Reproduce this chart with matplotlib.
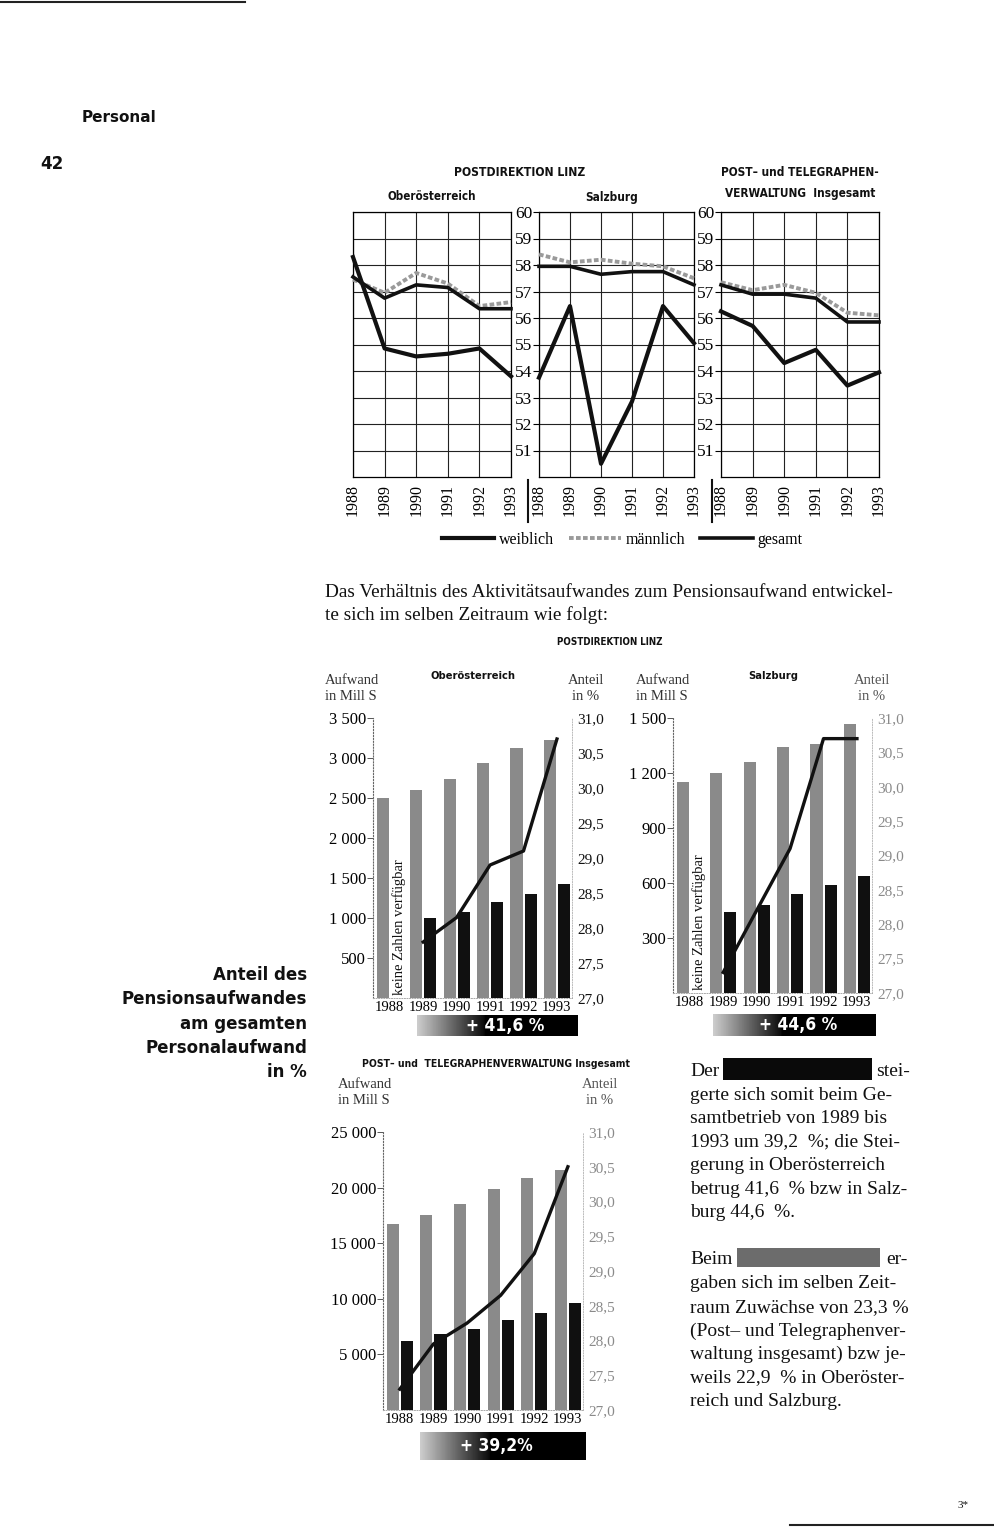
import numpy as np
import matplotlib
matplotlib.use("Agg")
import matplotlib.pyplot as plt
from matplotlib.lines import Line2D
from matplotlib.patches import Rectangle

W, H = 994, 1527
SERIF = "Liberation Serif"
NARROW = "DejaVu Sans"
HEAVY = "DejaVu Sans"

years = [1988, 1989, 1990, 1991, 1992, 1993]

# Liniendiagramme (Werte 50-60)
ooe_w = [58.3, 54.85, 54.55, 54.65, 54.85, 53.8]
ooe_m = [57.45, 56.95, 57.7, 57.3, 56.45, 56.6]
ooe_g = [57.55, 56.75, 57.25, 57.15, 56.35, 56.35]
sbg_w = [53.75, 56.45, 50.5, 52.85, 56.45, 55.05]
sbg_m = [58.4, 58.1, 58.2, 58.05, 57.95, 57.5]
sbg_g = [57.95, 57.95, 57.65, 57.75, 57.75, 57.25]
ges_w = [56.25, 55.7, 54.3, 54.8, 53.45, 53.95]
ges_m = [57.35, 57.05, 57.25, 56.95, 56.2, 56.1]
ges_g = [57.25, 56.9, 56.9, 56.75, 55.85, 55.85]

# Balkendiagramme (Aufwand in Mill S, Anteil in %)
ooe_akt = [2500, 2600, 2740, 2940, 3130, 3220]
ooe_pens = [np.nan, 1000, 1070, 1200, 1300, 1430]
ooe_ant = [np.nan, 27.8, 28.15, 28.9, 29.1, 30.7]
sbg_akt = [1150, 1200, 1260, 1340, 1360, 1470]
sbg_pens = [np.nan, 440, 480, 540, 590, 640]
sbg_ant = [np.nan, 27.3, 28.2, 29.1, 30.7, 30.7]
ges_akt = [16700, 17500, 18500, 19900, 20900, 21600]
ges_pens = [6200, 6800, 7300, 8100, 8700, 9600]
ges_ant = [27.3, 27.95, 28.25, 28.65, 29.25, 30.5]

fig = plt.figure(figsize=(W / 100, H / 100), dpi=100)


def px_axes(x0, y0, x1, y1):
    return fig.add_axes([x0 / W, 1 - y1 / H, (x1 - x0) / W, (y1 - y0) / H])


def ftext(x, y, s, **kw):
    kw.setdefault("family", SERIF)
    kw.setdefault("color", "#111111")
    fig.text(x / W, 1 - y / H, s, **kw)


def title(x, y, s, size, **kw):
    ftext(x, y, s, family=NARROW, weight="bold", stretch="condensed", fontsize=size,
          ha="center", va="center", **kw)


def fline(x0, x1, y0, y1, **kw):
    fig.add_artist(Line2D([x0 / W, x1 / W], [1 - y0 / H, 1 - y1 / H], **kw))


def fbox(x0, y0, x1, y1, color):
    fig.add_artist(Rectangle((x0 / W, 1 - y1 / H), (x1 - x0) / W, (y1 - y0) / H,
                             transform=fig.transFigure, color=color, lw=0))


# Kopf
fline(0, 245, 1.5, 1.5, color="#222", lw=1.5)
ftext(82, 117, "Personal", family=HEAVY, weight="bold", fontsize=11, va="center")
ftext(40, 164, "42", family=HEAVY, weight="bold", fontsize=12, va="center")

# Titel oben
title(520, 172, "POSTDIREKTION LINZ", 8.7)
title(432, 197, "Oberösterreich", 8.3)
title(612, 198, "Salzburg", 8.5)
title(800, 172, "POST\u2013 und TELEGRAPHEN-", 8.5)
title(800, 193, "VERWALTUNG  Insgesamt", 8.5)

panels = [
    ((353, 511), ooe_w, ooe_m, ooe_g, False),
    ((539, 694), sbg_w, sbg_m, sbg_g, True),
    ((721, 879), ges_w, ges_m, ges_g, True),
]
handles = None
for (x0, x1), w, m, g, lab in panels:
    ax = px_axes(x0, 212, x1, 477)
    ax.set_xlim(1988, 1993)
    ax.set_ylim(50, 60)
    ax.set_xticks(years)
    ax.set_xticklabels([str(y) for y in years], rotation=90, family=SERIF, fontsize=11.5)
    ax.set_yticks(range(51, 61))
    ax.set_yticklabels([str(v) for v in range(51, 61)], family=SERIF, fontsize=12.5)
    ax.grid(True, color="#222", lw=0.8)
    lm, = ax.plot(years, m, color="#9a9a9a", lw=2.8, ls=(0, (1.2, 0.6)), zorder=3, clip_on=False)
    lg, = ax.plot(years, g, color="#111", lw=2.6, zorder=4, clip_on=False)
    lw_, = ax.plot(years, w, color="#111", lw=3.0, zorder=4, clip_on=False)
    handles = [lw_, lm, lg]
    ax.tick_params(axis="x", length=0, pad=5)
    if lab:
        ax.tick_params(axis="y", length=4, width=0.8, pad=1)
    else:
        ax.tick_params(axis="y", length=0, labelleft=False)
    for sp in ax.spines.values():
        sp.set_linewidth(0.9)

fline(528, 528, 480, 522, color="#111", lw=1.5)
fline(712, 712, 480, 522, color="#111", lw=1.5)

fig.legend(handles, ["weiblich", "männlich", "gesamt"], loc="center",
           bbox_to_anchor=(622 / W, 1 - 540 / H), ncol=3, frameon=False,
           handlelength=3.3, columnspacing=0.9, handletextpad=0.3,
           prop={"family": SERIF, "size": 11.5})

# Fliesstext
ftext(325, 597, "Das Verhältnis des Aktivitätsaufwandes zum Pensionsaufwand entwickel-", fontsize=13.85)
ftext(325, 620, "te sich im selben Zeitraum wie folgt:", fontsize=13.85)
title(610, 642, "POSTDIREKTION LINZ", 7)


def bar_chart(rect, akt, pens, ant, ymax, yticks, ylabels, rcolor, note=False):
    ax = px_axes(*rect)
    x = np.arange(len(years))
    ax.bar(x - 0.21, akt, 0.36, color="#8a8a8a")
    ax.bar(x + 0.21, pens, 0.36, color="#101010")
    ax.set_xlim(-0.5, 5.45)
    ax.set_ylim(0, ymax)
    ax.set_yticks(yticks)
    ax.set_yticklabels(ylabels, family=SERIF, fontsize=12)
    ax.set_xticks(x)
    ax.set_xticklabels([str(y) for y in years], family=SERIF, fontsize=10.5)
    ax.tick_params(axis="x", length=0, pad=2)
    ax.tick_params(axis="y", length=4, width=0.7, color="#555", pad=1)
    ax.spines["top"].set_visible(False)
    ax.spines["left"].set(color="#666", lw=0.8, ls=":")
    ax.spines["bottom"].set(color="#aaa", lw=0.7, ls=":")
    ax.spines["right"].set(color="#bbb", lw=0.7, ls=":")
    if note:
        ax.text(0.27, ymax * 0.01, "keine Zahlen verfügbar", rotation=90, ha="center",
                va="bottom", family=SERIF, fontsize=10.5, color="#111")
    a2 = ax.twinx()
    a2.set_ylim(27, 31)
    rt = np.arange(27, 31.01, 0.5)
    a2.set_yticks(rt)
    a2.set_yticklabels([f"{v:.1f}".replace(".", ",") for v in rt], family=SERIF,
                       fontsize=11, color=rcolor)
    a2.tick_params(axis="y", length=0, pad=4)
    for sp in a2.spines.values():
        sp.set_visible(False)
    a2.plot(x, ant, color="#111", lw=2.4)
    return ax


def banner(rect, label, tx):
    b = px_axes(*rect)
    grad = np.concatenate([np.linspace(0.8, 0.05, 42), np.zeros(58)])
    b.imshow(grad[None, :], cmap="gray", vmin=0, vmax=1, aspect="auto", extent=[0, 1, 0, 1])
    b.set_axis_off()
    b.text(tx, 0.5, label, color="white", weight="bold", family=NARROW, stretch="condensed",
           fontsize=12.5, ha="center", va="center", transform=b.transAxes)


# Oberösterreich
ftext(325, 681, "Aufwand", fontsize=10.5, color="#333", va="center")
ftext(325, 697, "in Mill S", fontsize=10.5, color="#333", va="center")
title(473, 676, "Oberösterreich", 8)
ftext(586, 681, "Anteil", fontsize=10.5, color="#333", ha="center", va="center")
ftext(586, 697, "in %", fontsize=10.5, color="#333", ha="center", va="center")
bar_chart((373, 718, 572, 998), ooe_akt, ooe_pens, ooe_ant, 3500,
          [500, 1000, 1500, 2000, 2500, 3000, 3500],
          ["500", "1 000", "1 500", "2 000", "2 500", "3 000", "3 500"], "#111", note=True)
banner((417, 1015, 578, 1036), "+ 41,6 %", 0.55)

# Salzburg
ftext(636, 681, "Aufwand", fontsize=10.5, color="#333", va="center")
ftext(636, 697, "in Mill S", fontsize=10.5, color="#333", va="center")
title(773, 676, "Salzburg", 8)
ftext(872, 681, "Anteil", fontsize=10.5, color="#555", ha="center", va="center")
ftext(872, 697, "in %", fontsize=10.5, color="#555", ha="center", va="center")
bar_chart((673, 718, 872, 993), sbg_akt, sbg_pens, sbg_ant, 1500,
          [300, 600, 900, 1200, 1500], ["300", "600", "900", "1 200", "1 500"], "#8a8a8a", note=True)
banner((713, 1014, 876, 1036), "+ 44,6 %", 0.52)

# Gesamt
title(496, 1064, "POST\u2013 und  TELEGRAPHENVERWALTUNG Insgesamt", 7.5)
ftext(338, 1084, "Aufwand", fontsize=10.5, color="#333", va="center")
ftext(338, 1100, "in Mill S", fontsize=10.5, color="#333", va="center")
ftext(600, 1084, "Anteil", fontsize=10.5, color="#555", ha="center", va="center")
ftext(600, 1100, "in %", fontsize=10.5, color="#555", ha="center", va="center")
bar_chart((383, 1132, 583, 1410), ges_akt, ges_pens, ges_ant, 25000,
          [5000, 10000, 15000, 20000, 25000],
          ["5 000", "10 000", "15 000", "20 000", "25 000"], "#8a8a8a")
banner((420, 1432, 586, 1460), "+ 39,2%", 0.46)

# linke Randnotiz
side = ["Anteil des", "Pensionsaufwandes", "am gesamten", "Personalaufwand", "in %"]
for i, s in enumerate(side):
    ftext(307, 975 + i * 24.3, s, family=HEAVY, weight="bold", fontsize=12, ha="right", va="center")

# rechter Text
ftext(690, 1069, "Der", fontsize=14, va="center_baseline")
fbox(723, 1058, 872, 1080, "#0a0a0a")
ftext(876, 1069, "stei-", fontsize=14, va="center_baseline")
para1 = ["gerte sich somit beim Ge-", "samtbetrieb von 1989 bis", "1993 um 39,2  %; die Stei-",
         "gerung in Oberösterreich", "betrug 41,6  % bzw in Salz-", "burg 44,6  %."]
for i, s in enumerate(para1):
    ftext(690, 1093 + i * 23.5, s, fontsize=14, va="center_baseline")
ftext(690, 1258, "Beim", fontsize=14, va="center_baseline")
fbox(737, 1248, 880, 1267, "#6c6c6c")
ftext(886, 1258, "er-", fontsize=14, va="center_baseline")
para2 = ["gaben sich im selben Zeit-", "raum Zuwächse von 23,3 %", "(Post\u2013 und Telegraphenver-",
         "waltung insgesamt) bzw je-", "weils 22,9  % in Oberöster-", "reich und Salzburg."]
for i, s in enumerate(para2):
    ftext(690, 1282 + i * 23.5, s, fontsize=14, va="center_baseline")

ftext(958, 1505, "3*", fontsize=8, va="center")
fline(790, 994, 1525, 1525, color="#222", lw=1.5)

fig.savefig("out.png", dpi=100)
